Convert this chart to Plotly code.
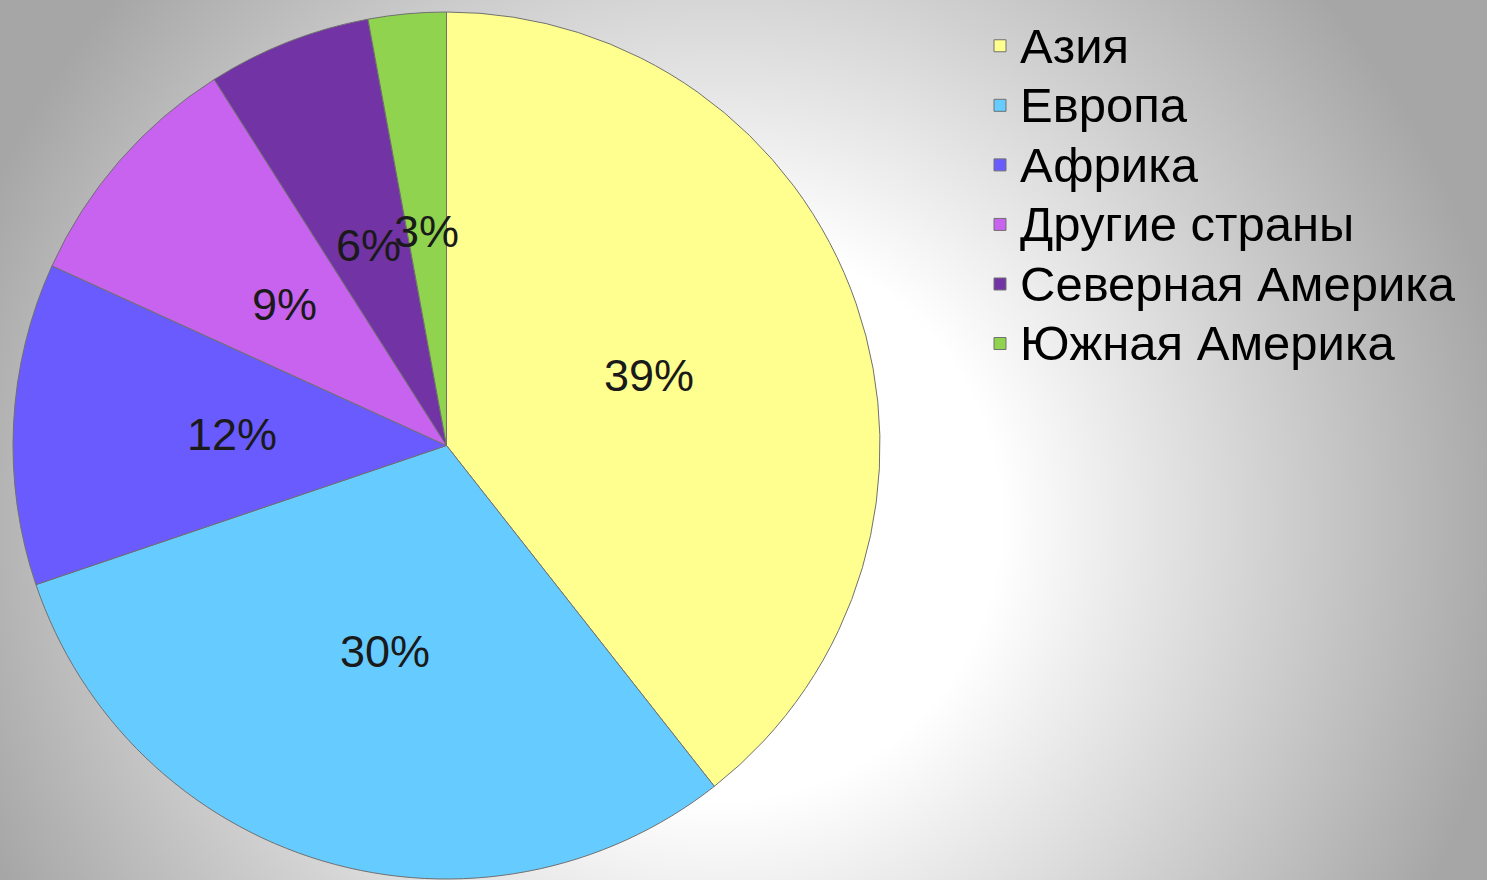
import math
import base64
import plotly.graph_objects as go

# ---- data ----
regions = ["Азия", "Европа", "Африка", "Другие страны", "Северная Америка", "Южная Америка"]
shares = [39.4, 30.4, 12.0, 9.2, 6.1, 2.9]
colors = ["#FFFF8F", "#66CCFF", "#6A5BFF", "#C763EE", "#7233A4", "#8FD34E"]

W, H = 1487, 880
CX, CY_TOP, R = 446.5, 445.5, 433.5   # pie centre (px from left / top) and radius
CY = H - CY_TOP

# background radial gradient as an SVG image
svg = f'''<svg xmlns="http://www.w3.org/2000/svg" width="{W}" height="{H}" viewBox="0 0 {W} {H}" preserveAspectRatio="none">
<defs><radialGradient id="g" gradientUnits="userSpaceOnUse" cx="720" cy="520" r="800">
<stop offset="0.35" stop-color="#ffffff"/><stop offset="1" stop-color="#a6a6a6"/></radialGradient></defs>
<rect x="0" y="0" width="{W}" height="{H}" fill="url(#g)"/></svg>'''
bg_src = "data:image/svg+xml;base64," + base64.b64encode(svg.encode()).decode()

fig = go.Figure()
fig.add_trace(go.Pie(
    labels=[f'<span style="font-size:49px">{r}</span>' for r in regions],
    values=shares,
    sort=False,
    direction="clockwise",
    rotation=0,
    marker=dict(colors=colors, line=dict(color="#707070", width=1)),
    textinfo="none",
    hoverinfo="label+percent",
    domain=dict(x=[(CX - R) / W, (CX + R) / W], y=[(CY - R) / H, (CY + R) / H]),
))

# percentage labels at the middle of each slice, half-way out
total = sum(shares)
annotations = []
acc = 0.0
for v in shares:
    mid = (acc + v / 2) / total * 2 * math.pi
    acc += v
    rr = 0.495 * R
    px = CX + rr * math.sin(mid)
    py = CY + rr * math.cos(mid)
    annotations.append(dict(
        x=px / W, y=py / H, xref="paper", yref="paper",
        text=f"{round(v / total * 100):.0f}%", showarrow=False,
        font=dict(family="Liberation Sans, Arial, sans-serif", size=45, color="#1a1a1a"),
        xanchor="center", yanchor="middle",
    ))

fig.update_layout(
    width=W, height=H,
    margin=dict(l=0, r=0, t=0, b=0),
    paper_bgcolor="#d0d0d0",
    images=[dict(source=bg_src, xref="paper", yref="paper", x=0, y=1, sizex=1, sizey=1,
                 xanchor="left", yanchor="top", sizing="stretch", layer="below")],
    showlegend=True,
    legend=dict(
        x=980 / W, y=1 - 11 / H, xanchor="left", yanchor="top",
        bgcolor="rgba(0,0,0,0)",
        font=dict(family="Liberation Sans, Arial, sans-serif", size=43.5, color="#000000"),
        itemclick=False, itemdoubleclick=False,
    ),
    annotations=annotations,
)

fig.write_html("out.html", config={"displayModeBar": False},
               post_script="document.body.style.margin='0px';")
